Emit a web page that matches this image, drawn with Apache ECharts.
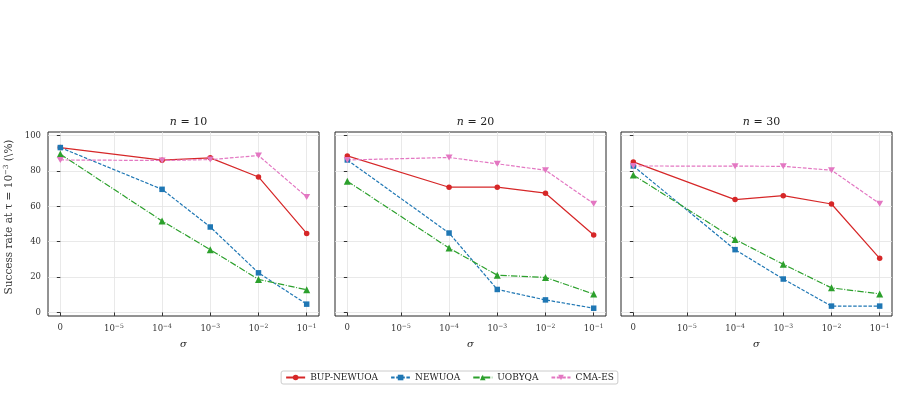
<!DOCTYPE html>
<html>
<head>
<meta charset="utf-8">
<script src="https://cdn.jsdelivr.net/npm/echarts@6/dist/echarts.min.js"></script>
<style>
  html, body { margin: 0; padding: 0; background: #fff; }
  #chart { width: 899px; height: 409px; }
</style>
</head>
<body>
<div id="chart"></div>
<script>
// noise levels (sigma) where the runs were made
const sigmaVals = [0, 1e-4, 1e-3, 1e-2, 1e-1];
const xTickSigma = [0, 1e-5, 1e-4, 1e-3, 1e-2, 1e-1];
const xTickLabels = ['0', '10{sup|−5}', '10{sup|−4}', '10{sup|−3}', '10{sup|−2}', '10{sup|−1}'];
const yTicks = [0, 20, 40, 60, 80, 100];
const dims = [10, 20, 30];
const methods = ['BUP-NEWUOA', 'NEWUOA', 'UOBYQA', 'CMA-ES'];

// success rate (%) per dimension, one row per n
const bupNewuoa = [
  [93.2, 86.1, 87.4, 76.6, 44.7],
  [88.5, 70.8, 70.8, 67.4, 43.8],
  [85.1, 63.8, 66.0, 61.3, 30.6]
];
const newuoa = [
  [93.2, 69.6, 48.3, 22.4, 4.7],
  [86.2, 44.9, 13.0, 7.1, 2.4],
  [82.8, 35.5, 18.9, 3.6, 3.6]
];
const uobyqa = [
  [89.5, 51.7, 35.5, 18.7, 12.8],
  [74.2, 36.4, 21.1, 19.8, 10.4],
  [77.7, 41.3, 27.2, 13.9, 10.5]
];
const cmaes = [
  [86.2, 85.9, 86.4, 88.7, 65.3],
  [86.2, 87.6, 84.0, 80.4, 61.5],
  [82.8, 82.7, 82.6, 80.4, 61.5]
];

const allData = [bupNewuoa, newuoa, uobyqa, cmaes];
const colors = ['#d62728', '#1f77b4', '#2ca02c', '#e377c2'];
const symbols = ['circle', 'rect', 'triangle', 'path://M0,0 L10,0 L5,9 Z'];
const dashes = ['solid', [3.5, 1.6], [6.4, 1.6, 1, 1.6], [3.7, 1.6]];

// symlog transform, linthresh 1e-5, base 10 (like matplotlib)
const linthresh = 1e-5;
const linAdj = 1 / (1 - 1 / 10);
function symlog(s) {
  if (s === 0) return 0;
  return linAdj + Math.log10(s / linthresh);
}
const xTickPos = xTickSigma.map(symlog);
const xLo = symlog(0), xHi = symlog(1e-1);
const xPad = (xHi - xLo) * 0.05;

const serif = 'DejaVu Serif';
const panelLeft = [48, 335, 621];
const panelW = 271;
const panelTop = 132;
const panelH = 184;

const chart = echarts.init(document.getElementById('chart'));

let grids = [], xAxes = [], yAxes = [], titles = [], series = [];
dims.forEach((n, i) => {
  grids.push({
    left: panelLeft[i], top: panelTop, width: panelW, height: panelH,
    show: true, borderColor: '#262626', borderWidth: 1, backgroundColor: 'transparent'
  });
  titles.push({
    text: '{i|n} = ' + n,
    left: panelLeft[i] + panelW / 2, top: 112, textAlign: 'center',
    textStyle: {
      fontFamily: serif, fontSize: 11, fontWeight: 'normal', color: '#222',
      rich: { i: { fontFamily: serif, fontStyle: 'italic', fontSize: 11, color: '#222' } }
    }
  });
  xAxes.push({
    type: 'value', gridIndex: i, min: xLo - xPad, max: xHi + xPad,
    name: 'σ', nameLocation: 'middle', nameGap: 23,
    nameTextStyle: { fontFamily: serif, fontStyle: 'italic', fontSize: 10, color: '#222' },
    axisLine: { show: false },
    axisTick: { show: true, inside: false, length: 3.5, customValues: xTickPos, lineStyle: { color: '#333' } },
    axisLabel: {
      customValues: xTickPos, margin: 7, fontFamily: serif, fontSize: 8.5, color: '#333',
      formatter: v => {
        let k = 0, best = 1e9;
        xTickPos.forEach((p, j) => { if (Math.abs(p - v) < best) { best = Math.abs(p - v); k = j; } });
        return xTickLabels[k];
      },
      rich: { sup: { fontFamily: serif, fontSize: 6, color: '#333', padding: [0, 0, 6, 0] } }
    },
    splitLine: { show: true, lineStyle: { color: '#e3e3e3', width: 0.8 } }
  });
  yAxes.push({
    type: 'value', gridIndex: i, min: -2, max: 102,
    name: i === 0 ? 'Success rate at τ = 10{sup|−3} (\\%)' : '',
    nameLocation: 'middle', nameGap: 32,
    nameTextStyle: {
      fontFamily: serif, fontSize: 10.5, color: '#333', padding: [0, 0, 0, 14],
      rich: { sup: { fontFamily: serif, fontSize: 7, color: '#333', padding: [0, 0, 6, 0] } }
    },
    axisLine: { show: false },
    axisTick: { show: true, inside: false, length: 3.5, customValues: yTicks, lineStyle: { color: '#333' } },
    axisLabel: { show: i === 0, customValues: yTicks, margin: 7, fontFamily: serif, fontSize: 8.5, color: '#333' },
    splitLine: { show: true, lineStyle: { color: '#e3e3e3', width: 0.8 } }
  });
  methods.forEach((m, k) => {
    series.push({
      name: m, type: 'line', xAxisIndex: i, yAxisIndex: i,
      data: sigmaVals.map((s, j) => [symlog(s), allData[k][i][j]]),
      symbol: symbols[k], symbolSize: k === 3 ? [7, 6] : (k === 2 ? 7 : 5.5),
      showSymbol: true,
      lineStyle: { color: colors[k], width: 1.2, type: dashes[k] },
      itemStyle: { color: colors[k] },
      emphasis: { disabled: true },
      animation: false
    });
  });
});

chart.setOption({
  backgroundColor: '#fff',
  animation: false,
  title: titles,
  grid: grids,
  xAxis: xAxes,
  yAxis: yAxes,
  legend: {
    data: methods, left: 'center', top: 371,
    borderColor: '#cccccc', borderWidth: 1, borderRadius: 2, padding: [2, 4],
    itemWidth: 19, itemHeight: 7, itemGap: 12,
    textStyle: { fontFamily: serif, fontSize: 9, color: '#222' }
  },
  series: series
});
</script>
</body>
</html>
